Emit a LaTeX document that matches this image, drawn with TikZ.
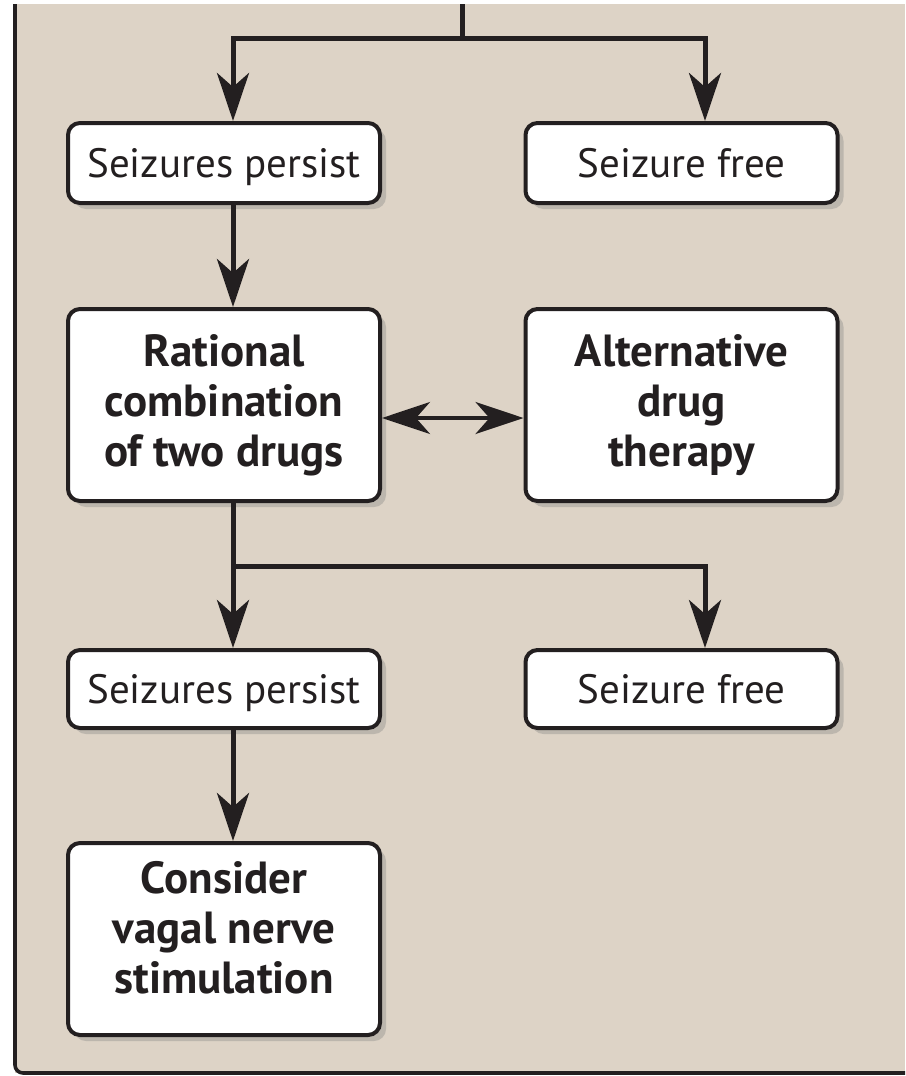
\documentclass[tikz,border=0pt]{standalone}
\usepackage{fontspec}
\setsansfont{PT Sans}
\usetikzlibrary{arrows.meta}
\usetikzlibrary{shadows}
\usetikzlibrary{calc}

\definecolor{panelbg}{RGB}{221,211,198}
\definecolor{ink}{RGB}{35,31,32}

\tikzset{
	flowbox/.style={draw=ink, line width=2pt, fill=white, rounded corners=6pt, align=center, text=ink, drop shadow={shadow xshift=3pt, shadow yshift=-3pt, opacity=0.35}},
	outcome/.style={flowbox, minimum width=156pt, minimum height=40pt, font=\sffamily\fontsize{20.5}{24}\selectfont, text height=14pt, text depth=0pt},
	action/.style={flowbox, minimum width=156pt, minimum height=96pt, font=\sffamily\bfseries\fontsize{22.5}{25}\selectfont},
	flowline/.style={draw=ink, line width=2.5pt},
	flowarrow/.style={flowline, -{Stealth[length=24pt, width=16pt, inset=7pt]}},
	twoway/.style={draw=ink, line width=1.8pt, {Stealth[length=24pt, width=16pt, inset=7pt]}-{Stealth[length=24pt, width=16pt, inset=7pt]}}
}

\begin{document}
\begin{tikzpicture}[x=0.5pt, y=-0.5pt]
		\useasboundingbox (0,0) rectangle (905,1076);
		% panel
		\fill[panelbg] (15,4) rectangle (905,1073);
		\draw[ink, line width=1.8pt, rounded corners=4pt] (15,4) -- (15,1073) -- (905,1073);
		% boxes
		\node[outcome] (persist1) at (224,163) {Seizures persist};
		\node[outcome] (free1) at (681.5,163) {Seizure free};
		\node[action] (combo) at (224,405) {Rational\\combination\\of two drugs};
		\node[action] (altdrug) at (681.5,405) {Alternative\\drug\\therapy};
		\node[outcome, minimum height=39pt] (persist2) at (224,689) {Seizures persist};
		\node[outcome, minimum height=39pt] (free2) at (681.5,689) {Seizure free};
		\node[action, text depth=12pt] (vagal) at (224,939) {Consider\\vagal nerve\\stimulation};
		% connectors
		\coordinate (stem) at (462,4);
		\coordinate (fork1) at (462,38);
		\coordinate (fork2) at (233,566);
		\coordinate (leftcol) at (233,0);
		\coordinate (rightcol) at (705,0);
		\coordinate (midrow) at (0,418);
		\draw[flowline] (stem) -- (fork1);
		\draw[flowarrow] (fork1) -| (persist1.north -| leftcol);
		\draw[flowarrow] (fork1) -| (free1.north -| rightcol);
		\draw[flowarrow] (persist1.south -| leftcol) -- (combo.north -| leftcol);
		\draw[flowline] (combo.south -| leftcol) -- (fork2);
		\draw[flowarrow] (fork2) -- (persist2.north -| leftcol);
		\draw[flowarrow] (fork2) -| (free2.north -| rightcol);
		\draw[flowarrow] (persist2.south -| leftcol) -- (vagal.north -| leftcol);
		\draw[twoway] (combo.east |- midrow) -- (altdrug.west |- midrow);
\end{tikzpicture}
\end{document}
